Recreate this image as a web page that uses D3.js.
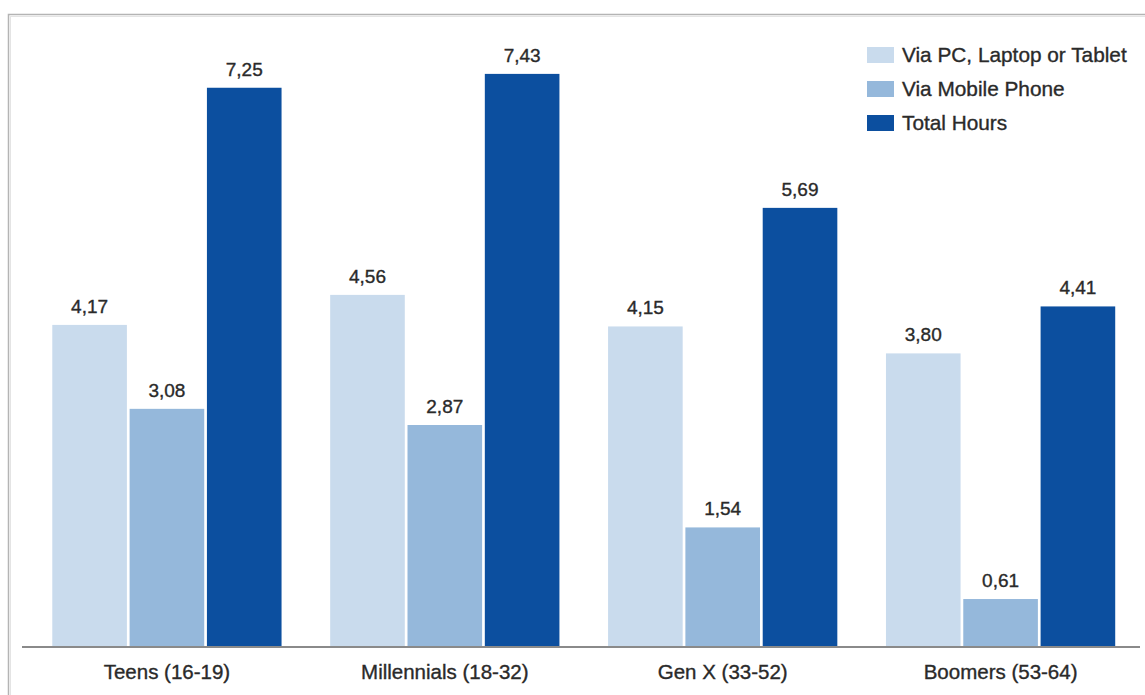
<!DOCTYPE html>
<html>
<head>
<meta charset="utf-8">
<script src="https://cdn.jsdelivr.net/npm/d3@7"></script>
<style>
  html, body { margin: 0; padding: 0; background: #fff; }
  svg { display: block; font-family: "Liberation Sans", Arial, sans-serif; }
  text { stroke: #2a2a2a; stroke-width: 0.35px; }
</style>
</head>
<body>
<div id="chart"></div>
<script>
const categories = ['Teens (16-19)', 'Millennials (18-32)', 'Gen X (33-52)', 'Boomers (53-64)'];
const seriesNames = ['Via PC, Laptop or Tablet', 'Via Mobile Phone', 'Total Hours'];
const pcHours = [4.17, 4.56, 4.15, 3.80];
const mobileHours = [3.08, 2.87, 1.54, 0.61];
const totalHours = [7.25, 7.43, 5.69, 4.41];
const seriesColors = ['#c9dbed', '#95b8db', '#0c4f9f'];

const width = 1145, height = 695;
const baseY = 646;

const svg = d3.select('#chart').append('svg')
  .attr('width', width)
  .attr('height', height);

// frame around the chart (cut off at right and bottom)
svg.append('rect')
  .attr('x', 8.5).attr('y', 14.5)
  .attr('width', 1200).attr('height', 800)
  .attr('fill', 'none')
  .attr('stroke', '#b4b4b4')
  .attr('stroke-width', 1.5);
svg.append('rect')
  .attr('x', 10.5).attr('y', 16.5)
  .attr('width', 1200).attr('height', 800)
  .attr('fill', 'none')
  .attr('stroke', '#e4e4e4')
  .attr('stroke-width', 1);

const x0 = d3.scaleBand()
  .domain(categories)
  .range([24.5, 1143])
  .paddingInner(0.175)
  .paddingOuter(0.1);

const x1 = d3.scaleBand()
  .domain(seriesNames)
  .range([0, x0.bandwidth()])
  .paddingInner(0.035);

const y = d3.scaleLinear()
  .domain([0, 8])
  .range([baseY, 30]);

const data = categories.map((c, i) => ({
  cat: c,
  values: [pcHours[i], mobileHours[i], totalHours[i]].map((v, j) => ({ key: seriesNames[j], value: v, idx: j }))
}));

const groups = svg.selectAll('.group')
  .data(data)
  .enter()
  .append('g')
  .attr('class', 'group')
  .attr('transform', d => `translate(${x0(d.cat)},0)`);

groups.selectAll('rect')
  .data(d => d.values)
  .enter()
  .append('rect')
  .attr('x', d => x1(d.key))
  .attr('y', d => y(d.value))
  .attr('width', x1.bandwidth())
  .attr('height', d => baseY - y(d.value))
  .attr('fill', d => seriesColors[d.idx]);

// value labels
groups.selectAll('.bar-label')
  .data(d => d.values)
  .enter()
  .append('text')
  .attr('class', 'bar-label')
  .attr('x', d => x1(d.key) + x1.bandwidth() / 2)
  .attr('y', d => y(d.value) - 12)
  .attr('text-anchor', 'middle')
  .attr('font-size', 19)
  .attr('fill', '#2a2a2a')
  .text(d => d3.format('.2f')(d.value).replace('.', ','));

// x axis
const xAxis = svg.append('g')
  .attr('transform', `translate(0,${baseY})`)
  .call(d3.axisBottom(x0).tickSize(0).tickPadding(0));
xAxis.select('.domain').remove();
xAxis.selectAll('text')
  .attr('y', 33)
  .attr('dy', 0)
  .attr('font-size', 20.5)
  .attr('font-family', '"Liberation Sans", Arial, sans-serif')
  .attr('fill', '#2a2a2a');

svg.append('line')
  .attr('x1', 22).attr('x2', 1140)
  .attr('y1', baseY + 1).attr('y2', baseY + 1)
  .attr('stroke', '#8a8a8a')
  .attr('stroke-width', 2);

// legend
const legend = svg.append('g')
  .attr('transform', 'translate(867,47)');
const items = legend.selectAll('g')
  .data(seriesNames)
  .enter()
  .append('g')
  .attr('transform', (d, i) => `translate(0,${i * 34})`);
items.append('rect')
  .attr('width', 27)
  .attr('height', 16)
  .attr('fill', (d, i) => seriesColors[i]);
items.append('text')
  .attr('x', 35)
  .attr('y', 15)
  .attr('font-size', 20.8)
  .attr('fill', '#2a2a2a')
  .text(d => d);
</script>
</body>
</html>
